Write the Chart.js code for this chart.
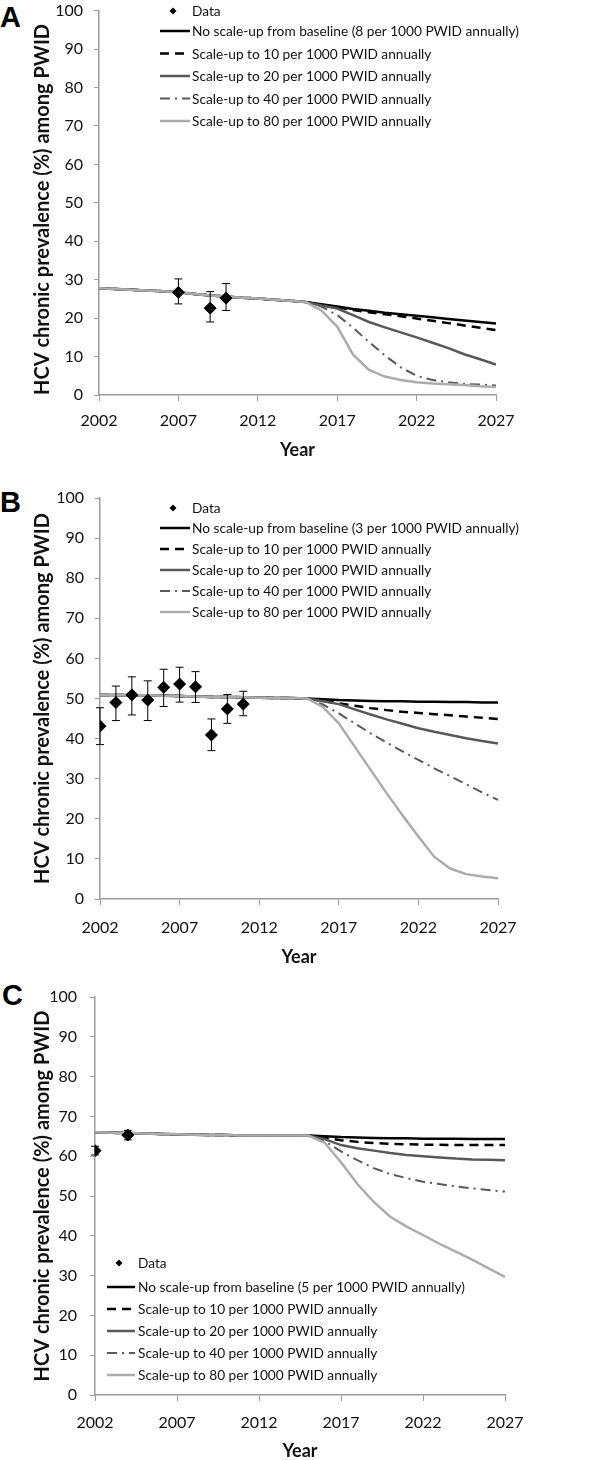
<!DOCTYPE html>
<html>
<head>
<meta charset="utf-8">
<script src="https://cdn.jsdelivr.net/npm/chart.js@4.4.0/dist/chart.umd.min.js"></script>
<style>
  body { margin: 0; background: #fff; width: 601px; height: 1460px; position: relative; overflow: hidden; }
  canvas { position: absolute; left: 0; }
  .letter { position: absolute; font: bold 29px "Liberation Sans", Arial, sans-serif; line-height: 1; color: #000; }
</style>
</head>
<body>
<div class="letter" style="left:0;top:3px">A</div>
<div class="letter" style="left:0;top:488px">B</div>
<div class="letter" style="left:2px;top:981px">C</div>
<canvas id="chartA" width="601" height="490" style="top:-10px"></canvas>
<canvas id="chartB" width="601" height="510" style="top:470px"></canvas>
<canvas id="chartC" width="601" height="510" style="top:950px"></canvas>
<script>
// model years
const years = [2002, 2003, 2004, 2005, 2006, 2007, 2008, 2009, 2010, 2011, 2012, 2013, 2014,
  2015, 2016, 2017, 2018, 2019, 2020, 2021, 2022, 2023, 2024, 2025, 2026, 2027];

const scaleLabels = [
  'Scale-up to 10 per 1000 PWID annually',
  'Scale-up to 20 per 1000 PWID annually',
  'Scale-up to 40 per 1000 PWID annually',
  'Scale-up to 80 per 1000 PWID annually'
];

// panel A  (2002-2015 shared fit, then 2016-2027 projections)
const aHist = [27.8, 27.6, 27.4, 27.2, 27.0, 26.7, 26.3, 25.9, 25.6, 25.3, 25.1, 24.8, 24.5, 24.2];
const aBase = [23.6, 23.0, 22.4, 21.9, 21.4, 21.0, 20.6, 20.2, 19.8, 19.4, 19.0, 18.6];
const a10 = [23.4, 22.8, 22.1, 21.5, 21.0, 20.5, 19.9, 19.3, 18.7, 18.1, 17.5, 16.9];
const a20 = [23.3, 22.5, 20.8, 19.0, 17.6, 16.3, 15.0, 13.6, 12.2, 10.6, 9.3, 7.9];
const a40 = [23.0, 20.8, 17.5, 13.8, 10.3, 7.2, 5.0, 3.9, 3.3, 2.9, 2.7, 2.5];
const a80 = [22.0, 17.8, 10.5, 6.5, 4.8, 3.9, 3.3, 3.0, 2.8, 2.6, 2.3, 2.1];
const aDataYears = [2007, 2009, 2010];
const aData = [26.7, 22.6, 25.2];
const aLow = [23.7, 19.0, 22.0];
const aHigh = [30.2, 26.9, 29.0];

// panel B
const bHist = [50.9, 50.9, 50.8, 50.8, 50.7, 50.6, 50.5, 50.4, 50.4, 50.3, 50.2, 50.1, 50.1, 50.0];
const bBase = [49.8, 49.6, 49.5, 49.4, 49.3, 49.3, 49.2, 49.2, 49.1, 49.1, 49.0, 49.0];
const b10 = [49.4, 48.8, 48.2, 47.6, 47.1, 46.7, 46.4, 46.1, 45.8, 45.5, 45.2, 44.9];
const b20 = [49.3, 48.6, 47.3, 46.0, 44.8, 43.7, 42.6, 41.7, 40.9, 40.1, 39.4, 38.8];
const b40 = [48.5, 46.3, 43.8, 41.3, 39.0, 36.8, 34.7, 32.6, 30.6, 28.6, 26.6, 24.7];
const b80 = [47.9, 43.8, 38.0, 32.2, 26.4, 20.9, 15.6, 10.5, 7.6, 6.2, 5.6, 5.2];
const bDataYears = [2002, 2003, 2004, 2005, 2006, 2007, 2008, 2009, 2010, 2011];
const bData = [43.1, 49.0, 50.9, 49.6, 52.8, 53.6, 52.9, 40.9, 47.4, 48.6];
const bLow = [38.5, 44.5, 45.9, 44.5, 48.0, 49.1, 49.0, 37.0, 43.8, 45.7];
const bHigh = [47.7, 53.1, 55.4, 54.4, 57.3, 57.8, 56.7, 44.9, 51.0, 51.8];

// panel C
const cHist = [66.0, 65.9, 65.8, 65.7, 65.6, 65.5, 65.4, 65.3, 65.3, 65.2, 65.2, 65.2, 65.2, 65.2];
const cBase = [65.0, 64.8, 64.7, 64.6, 64.5, 64.5, 64.4, 64.4, 64.4, 64.3, 64.3, 64.3];
const c10 = [64.6, 64.0, 63.6, 63.3, 63.1, 63.0, 62.9, 62.9, 62.8, 62.8, 62.8, 62.8];
const c20 = [64.3, 62.8, 62.0, 61.4, 60.8, 60.3, 60.0, 59.7, 59.4, 59.2, 59.1, 59.0];
const c40 = [63.8, 61.2, 59.0, 57.0, 55.5, 54.5, 53.6, 53.0, 52.4, 51.9, 51.5, 51.1];
const c80 = [63.4, 58.5, 53.0, 48.5, 44.8, 42.3, 40.2, 38.0, 36.0, 34.0, 31.8, 29.7];
const cDataYears = [2002, 2004];
const cData = [61.4, 65.3];
const cLow = [60.3, 64.1];
const cHigh = [62.5, 66.5];

const FONT = 'Lato, "Open Sans", sans-serif';
const AXIS = '#9c9c9c';

function pts(hist, proj) {
  return hist.concat(proj).map((v, i) => ({ x: years[i], y: v }));
}

// error bars drawn just before the diamonds
const errorBars = {
  id: 'errorBars',
  beforeDatasetDraw(chart, args) {
    if (args.index !== 0) return;
    const ds = chart.data.datasets[0];
    const x = chart.scales.x, y = chart.scales.y;
    const ctx = chart.ctx;
    ctx.save();
    ctx.strokeStyle = '#000';
    ctx.lineWidth = 1;
    ds.data.forEach((p, i) => {
      const px = x.getPixelForValue(p.x);
      const top = y.getPixelForValue(ds.errHigh[i]);
      const bot = y.getPixelForValue(ds.errLow[i]);
      ctx.beginPath();
      ctx.moveTo(px, top); ctx.lineTo(px, bot);
      ctx.moveTo(px - 4, top); ctx.lineTo(px + 4, top);
      ctx.moveTo(px - 4, bot); ctx.lineTo(px + 4, bot);
      ctx.stroke();
    });
    ctx.restore();
  }
};

// legend drawn at a fixed spot inside the plot, like the excel original
const sketchLegend = {
  id: 'sketchLegend',
  afterDraw(chart, args, o) {
    const ctx = chart.ctx;
    ctx.save();
    ctx.font = '13.7px ' + FONT;
    ctx.textBaseline = 'middle';
    ctx.fillStyle = '#111';
    chart.data.datasets.forEach((ds, i) => {
      const yy = i === 0 ? o.y : o.y + o.first + (i - 1) * o.gap;
      if (ds.showLine === false) {
        const cx = (o.x0 + o.x1) / 2 - 2, r = 3.5;
        ctx.fillStyle = '#000';
        ctx.beginPath();
        ctx.moveTo(cx, yy - r); ctx.lineTo(cx + r, yy); ctx.lineTo(cx, yy + r); ctx.lineTo(cx - r, yy);
        ctx.closePath(); ctx.fill();
      } else {
        ctx.strokeStyle = ds.borderColor;
        ctx.lineWidth = ds.borderWidth;
        ctx.setLineDash(ds.borderDash || []);
        ctx.beginPath();
        ctx.moveTo(o.x0, yy); ctx.lineTo(o.x1, yy);
        ctx.stroke();
        ctx.setLineDash([]);
      }
      ctx.fillStyle = '#111';
      ctx.fillText(ds.label, o.textX, yy + 1);
    });
    ctx.restore();
  }
};

function makePanel(id, lay, hist, base, s10, s20, s40, s80, dYears, dVals, dLow, dHigh, rate) {
  const datasets = [
    {
      label: 'Data',
      data: dYears.map((yr, i) => ({ x: yr, y: dVals[i] })),
      errLow: dLow, errHigh: dHigh,
      showLine: false, pointStyle: 'rectRot', pointRadius: 6,
      pointBackgroundColor: '#000', pointBorderColor: '#000', order: 0
    },
    { label: 'No scale-up from baseline (' + rate + ' per 1000 PWID annually)', data: pts(hist, base),
      borderColor: '#000', borderWidth: 2.5, order: 5 },
    { label: scaleLabels[0], data: pts(hist, s10),
      borderColor: '#000', borderWidth: 2.5, borderDash: [9, 6], order: 4 },
    { label: scaleLabels[1], data: pts(hist, s20),
      borderColor: '#595959', borderWidth: 2.5, order: 3 },
    { label: scaleLabels[2], data: pts(hist, s40),
      borderColor: '#595959', borderWidth: 2, borderDash: [10, 5, 2, 5], order: 2 },
    { label: scaleLabels[3], data: pts(hist, s80),
      borderColor: '#acacac', borderWidth: 2.5, order: 1 }
  ];
  datasets.forEach(d => { if (d.showLine !== false) { d.pointRadius = 0; d.tension = 0; d.fill = false; } });

  new Chart(document.getElementById(id), {
    type: 'line',
    data: { datasets: datasets },
    plugins: [errorBars, sketchLegend],
    options: {
      responsive: false,
      animation: false,
      layout: { padding: { top: lay.top, left: 33, right: lay.right, bottom: lay.bottom } },
      plugins: {
        legend: { display: false },
        tooltip: { enabled: false },
        sketchLegend: lay.legend
      },
      scales: {
        x: {
          type: 'linear', min: 2002, max: 2027,
          ticks: { stepSize: 5, maxRotation: 0, padding: lay.xPad, color: '#111',
                   font: { family: FONT, size: 16 }, callback: v => String(v) },
          grid: { drawOnChartArea: false, tickLength: 6, color: AXIS },
          border: { color: AXIS, width: 1.5 },
          title: { display: true, text: 'Year', color: '#111', padding: 0,
                   font: { family: FONT, size: 18, weight: 'bold', lineHeight: 1 } },
          afterFit: s => { s.height = lay.xH; }
        },
        y: {
          min: 0, max: 100,
          ticks: { stepSize: 10, padding: lay.yPad, color: '#111', font: { family: FONT, size: 16 } },
          grid: { drawOnChartArea: false, tickLength: 5, color: AXIS },
          border: { color: AXIS, width: 1.5 },
          title: { display: true, text: 'HCV chronic prevalence (%) among PWID', color: '#111', padding: 0,
                   align: lay.titleAlign,
                   font: { family: FONT, size: 20, weight: 'bold', lineHeight: 1 } },
          afterFit: s => { s.width = lay.yW; }
        }
      }
    }
  });
}

makePanel('chartA',
  { top: 15, right: 105, bottom: 21, xH: 64, xPad: 10, yPad: 11, yW: 66, titleAlign: 'start',
    legend: { x0: 160, x1: 190, textX: 192, y: 21, first: 20, gap: 22.5 } },
  aHist, aBase, a10, a20, a40, a80, aDataYears, aData, aLow, aHigh, 8);

makePanel('chartB',
  { top: 28, right: 103, bottom: 14, xH: 67, xPad: 13, yPad: 11, yW: 67, titleAlign: 'center',
    legend: { x0: 160, x1: 190, textX: 192, y: 38, first: 20, gap: 21 } },
  bHist, bBase, b10, b20, b40, b80, bDataYears, bData, bLow, bHigh, 3);

makePanel('chartC',
  { top: 47, right: 96, bottom: 0, xH: 65, xPad: 12, yPad: 13, yW: 62, titleAlign: 'center',
    legend: { x0: 107, x1: 135, textX: 138, y: 313, first: 24, gap: 22 } },
  cHist, cBase, c10, c20, c40, c80, cDataYears, cData, cLow, cHigh, 5);
</script>
</body>
</html>
